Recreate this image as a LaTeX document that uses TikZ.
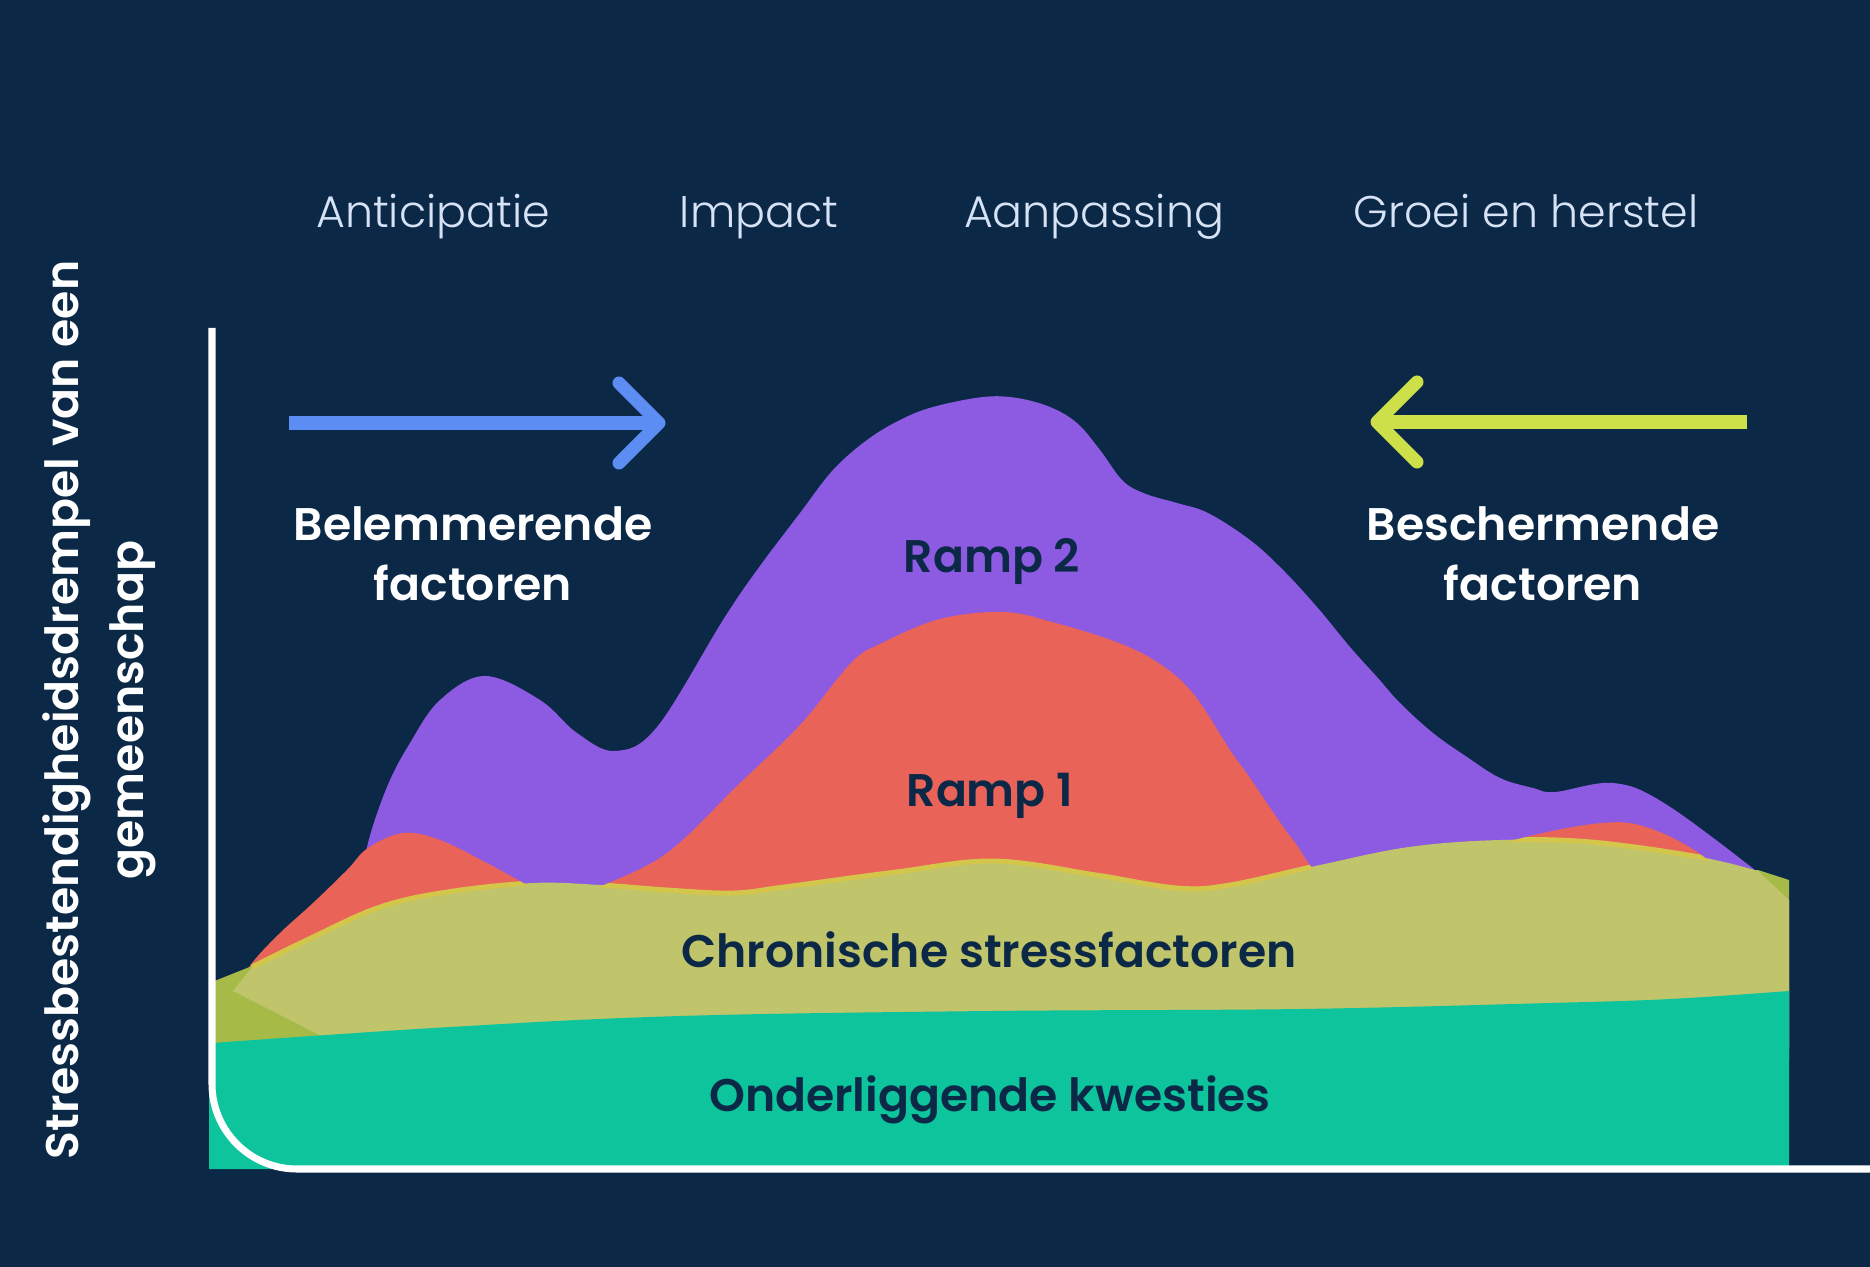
\documentclass[tikz,border=0pt]{standalone}
\usepackage{fontspec}
\setmainfont{Poppins}
\newfontfamily\lightfont{Poppins Light}
\newfontfamily\semifont{Poppins SemiBold}
\usepackage{tikz}

\definecolor{bgnavy}{HTML}{0C2847}
\definecolor{phasetxt}{HTML}{D6E2F5}
\definecolor{ramppurple}{HTML}{8C5BE1}
\definecolor{rampred}{HTML}{EA6359}
\definecolor{olivelight}{HTML}{C0C46A}
\definecolor{olivedark}{HTML}{A6BA48}
\definecolor{olivestroke}{HTML}{D4C64A}
\definecolor{basegreen}{HTML}{0DC49C}
\definecolor{arrowblue}{HTML}{5B8DF2}
\definecolor{arrowlime}{HTML}{CDE04A}

% outlines used more than once
\newcommand\rampone{plot[smooth, tension=0.6] coordinates {(238,988) (252,963)
  (280,933) (313,903) (347,870) (368,848) (403,833) (440,840) (487,863) (527,885)
  (565,905) (600,887) (667,853) (739,784) (800,725) (851,663) (882,643) (940,619)
  (1003,612) (1052,622) (1119,643) (1163,666) (1195,696) (1230,750) (1250,778)
  (1293,840) (1330,878) (1420,870) (1518,839) (1602,823) (1649,828) (1704,857)
  (1740,900)} -- (1740,1050) -- (238,1050) -- cycle}
\newcommand\chronictop{plot[smooth, tension=0.6] coordinates {(252,967) (313,937)
  (380,907) (447,892) (533,883) (600,885) (667,890) (733,893) (784,887) (896,872)
  (994,861) (1096,875) (1177,888) (1230,885) (1320,865) (1409,847) (1500,840)
  (1591,842) (1700,857) (1758,871)}}

\begin{document}
\begin{tikzpicture}[x=0.01cm, y=-0.01cm,
    phase/.style={font=\lightfont\fontsize{12.6}{15}\selectfont, text=phasetxt,
      anchor=base, inner sep=0pt},
    factor/.style={font=\semifont\fontsize{13}{17}\selectfont, text=white,
      align=center, inner sep=0pt},
    layer/.style={font=\semifont\fontsize{13}{16}\selectfont, text=bgnavy,
      anchor=base, inner sep=0pt},
    axisline/.style={white, line width=2pt, rounded corners=0.85cm},
    shaft/.style={line width=3.7pt},
    head/.style={line width=3.7pt, line cap=round, line join=round}]

  \useasboundingbox (0,0) rectangle (1870,1267);
  \fill[bgnavy] (0,0) rectangle (1870,1267);

  % Ramp 2
  \fill[ramppurple] plot[smooth, tension=0.6] coordinates {(350,990) (360,900)
    (367,847) (387,787) (410,743) (440,700) (485,676) (540,700) (577,733)
    (615,751) (657,727) (723,620) (757,570) (800,513) (833,470) (867,440)
    (900,420) (933,407) (983,397) (1017,398) (1050,407) (1077,423) (1100,450)
    (1123,481) (1146,494) (1177,503) (1208,513) (1250,540) (1283,570) (1317,607)
    (1350,647) (1377,677) (1400,703) (1433,733) (1467,757) (1500,778) (1533,788)
    (1555,792) (1613,783) (1664,803) (1755,870) (1789,900)}
    -- (1789,1050) -- (350,1050) -- cycle;

  % Ramp 1
  \fill[rampred] \rampone;

  % chronic stress: darker base, lighter band on top
  \fill[olivedark] (212,982) -- (262,962) -- (1000,935) -- (1700,878)
    -- (1758,870) -- (1789,880) -- (1789,1060) -- (212,1060) -- cycle;
  \fill[olivelight] \chronictop -- (1789,900) -- (1789,1048) -- (345,1048)
    -- (233,991) -- cycle;
  \begin{scope}
    \clip \rampone;
    \draw[olivestroke, line width=1.4pt] \chronictop;
  \end{scope}

  % underlying issues
  \fill[basegreen] (209,1169) -- (209,1043) -- plot[smooth, tension=0.6]
    coordinates {(212,1043) (450,1027) (680,1016) (990,1011) (1300,1009)
    (1550,1003) (1670,999) (1789,991)} -- (1789,1169) -- cycle;

  % axis
  \draw[axisline] (212,328) -- (212,1169) -- (1870,1169);

  % phases
  \node[phase] (anticipatie) at (433,228) {Anticipatie};
  \node[phase] (impact) at (759,228) {Impact};
  \node[phase] (aanpassing) at (1094,228) {Aanpassing};
  \node[phase] (groei) at (1526,228) {Groei en herstel};

  % factor arrows
  \coordinate (hinderTail) at (289,423);
  \coordinate (hinderTip) at (659,423);
  \draw[shaft, arrowblue] (hinderTail) -- (hinderTip);
  \draw[head, arrowblue] (hinderTip) ++(-40,-40) -- (hinderTip) -- ++(-40,40);
  \coordinate (protectTail) at (1747,422);
  \coordinate (protectTip) at (1377,422);
  \draw[shaft, arrowlime] (protectTail) -- (protectTip);
  \draw[head, arrowlime] (protectTip) ++(40,-40) -- (protectTip) -- ++(40,40);

  \node[factor] (belemmerend) at (473,554) {Belemmerende\\factoren};
  \node[factor] (beschermend) at (1543,554) {Beschermende\\factoren};

  % layer labels
  \node[layer] (ramp2) at (992,572) {Ramp 2};
  \node[layer] (ramp1) at (990,806) {Ramp 1};
  \node[layer] (chronisch) at (989,967) {Chronische stressfactoren};
  \node[layer] (onderliggend) at (990,1111) {Onderliggende kwesties};

  \node[factor, rotate=90, font=\semifont\fontsize{13}{18.5}\selectfont]
    (yTitle) at (99,710) {Stressbestendigheidsdrempel van een\\gemeenschap};
\end{tikzpicture}
\end{document}
